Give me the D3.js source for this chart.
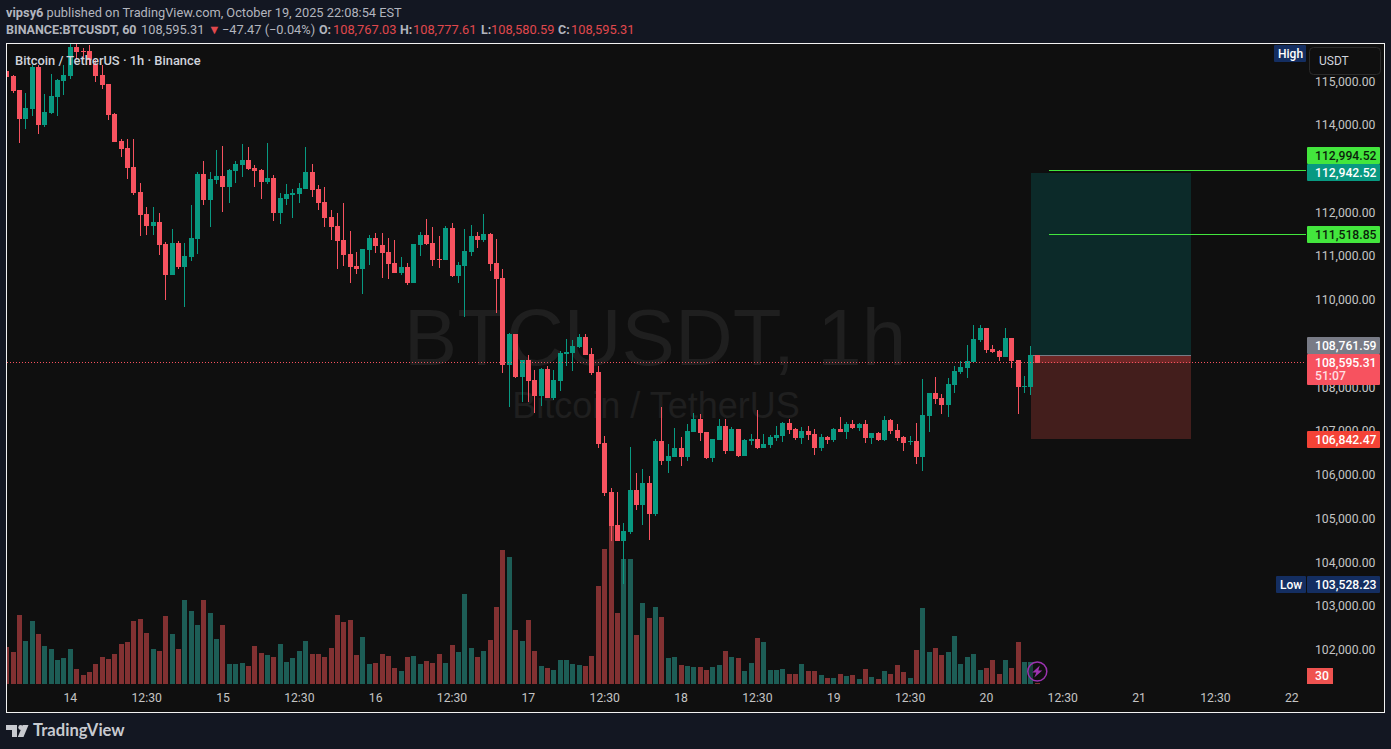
<!DOCTYPE html>
<html>
<head>
<meta charset="utf-8">
<title>BTCUSDT 1h</title>
<script src="https://cdn.jsdelivr.net/npm/d3@7/dist/d3.min.js"></script>
<style>
  html, body { margin: 0; padding: 0; background: #131722; overflow: hidden; }
  text { font-family: Roboto, "Liberation Sans", sans-serif; }
</style>
</head>
<body>
<div id="chart"></div>
<script>
// hourly candles
const opens = [115267,115152,114832,114168,114397,115358,114031,114306,114672,115038,115152,115816,115724,115724,115427,115175,114969,114283,113665,113505,113070,112498,111996,111721,111813,111310,110600,111333,110783,111012,111424,112910,112316,112773,112865,112613,112979,113116,113230,113047,113002,112727,112819,112019,112338,112430,112452,112567,112956,112567,112270,111927,111721,111401,111081,110806,110737,111172,111447,111287,111126,110875,110646,110783,110417,111287,111515,111333,110966,110943,111675,110577,110806,111126,111493,111401,111538,110875,110532,108542,109250,108267,108656,108199,107833,108450,107787,108176,108794,108816,108953,109182,108794,108382,106757,105636,104882,104516,104722,105682,105340,105842,105134,106803,106345,106437,106643,106437,107009,107306,107009,106414,106826,107147,106574,107078,106460,106803,106849,106643,106711,106872,106918,107215,107078,106872,107032,106963,106643,106895,106826,107078,107009,107192,107101,107192,106872,106986,106826,107284,107055,106895,106780,106803,106437,107375,107901,107787,107627,108084,108382,108473,108610,109113,109387,108908,108862,108725,109159,108656,108039,108039,108767.03];
const highs = [115381,115175,114832,114763,115404,115404,114740,115198,115084,115404,115976,115976,115793,115861,115518,115404,114969,114306,113711,113711,113711,112704,112156,112156,112019,111355,111653,111378,111333,112202,112956,113207,112956,113459,113550,113024,113207,113596,113528,113116,113024,113619,112888,112475,112681,112567,112704,113528,113139,112658,112613,112087,112019,112247,111607,111126,111195,111515,111561,111561,111447,111401,111012,110875,111310,111584,111881,111698,111493,111721,111790,110898,111653,111744,111584,111996,111561,111424,110737,109273,109250,108656,108771,108428,108473,108519,108428,108862,109136,109113,109250,109250,108930,108519,106918,105728,105636,104928,106666,106071,106162,106002,106849,107581,106735,107101,106895,107192,107444,107421,107009,106849,107306,107306,107124,107078,106849,106963,107512,106963,106940,107147,107238,107306,107101,107124,107147,107078,106963,106918,107101,107352,107238,107284,107215,107284,106986,107009,107375,107306,107192,106918,106918,107215,108222,107901,108267,107878,108244,108519,108633,108999,109456,109456,109387,108999,108885,109387,109159,108656,108290,108976,108777.61];
const lows = [115084,114763,113619,113940,114237,113825,113985,114283,114237,114717,115084,115541,115564,115404,115015,114855,114146,113642,113299,112796,112429,111493,111515,111515,111058,110028,110600,110737,109868,110920,111081,112202,111698,112681,112042,112247,112704,112842,113002,112613,112338,112681,111836,111767,112202,111904,112247,112567,112384,112087,111698,111401,110737,110806,110417,110623,110165,110829,111103,110532,110509,110646,110600,110371,110417,111035,111287,110806,110760,110943,110554,110417,109639,111035,111218,111355,110692,109731,108359,107581,108244,107695,107695,107444,107604,107787,107741,107947,108519,108405,108930,108771,108313,106643,105545,104516,104516,103528.23,104676,105225,104882,104539,105088,106254,106071,106437,106231,106345,107009,106803,106391,106322,106826,106506,106574,106437,106460,106711,106620,106643,106643,106803,106780,106963,106826,106735,106826,106483,106574,106735,106780,107009,106849,107078,107032,106757,106735,106803,106803,106963,106803,106574,106711,106277,106117,107009,107650,107421,107352,107901,108336,108244,108610,109067,108816,108816,108633,108725,108473,107421,107901,107856,108580.59];
const closes = [115129,114809,114168,114420,115358,114031,114329,114695,115061,115175,115816,115701,115701,115518,115152,114947,114260,113642,113482,113047,112475,111973,111721,111813,111287,110600,111333,110783,111035,111447,112910,112316,112796,112865,112613,113002,113139,113230,113024,112979,112727,112819,112019,112361,112452,112475,112590,112956,112544,112247,111904,111698,111378,111058,110783,110737,111195,111447,111264,111103,110852,110646,110783,110417,111310,111515,111310,110943,110943,111675,110577,110829,111149,111493,111401,111538,110852,110509,108542,109250,108267,108656,108176,107833,108450,107787,108199,108816,108839,108976,109182,108771,108359,106735,105613,104859,104516,104745,105682,105340,105842,105134,106803,106345,106460,106643,106437,107032,107306,106986,106414,106849,107147,106574,107078,106460,106826,106849,106643,106735,106895,106940,107215,107055,106872,107032,106940,106643,106895,106826,107078,107009,107192,107101,107192,106872,106986,106826,107284,107032,106872,106757,106803,106437,107398,107901,107764,107627,108107,108405,108496,108633,109136,109387,108885,108839,108725,109159,108633,108039,108062,108771,108595.31];
const volumes = [370,320,690,430,630,500,380,350,240,260,350,150,90,120,200,270,250,300,400,420,630,650,510,350,330,680,500,350,840,730,590,840,710,450,590,200,200,210,180,380,310,290,270,400,220,260,330,430,300,300,270,360,690,620,640,290,470,200,210,300,280,160,130,270,280,200,230,210,300,210,390,320,900,360,270,330,440,770,1340,1270,540,430,640,330,180,160,140,240,240,200,190,180,280,980,1350,1600,710,1250,1250,490,810,660,770,670,260,270,190,180,170,170,140,170,190,330,270,260,130,210,460,420,140,140,150,100,100,200,130,130,90,60,60,100,80,90,50,150,70,50,130,100,190,120,60,340,760,320,360,290,320,480,200,270,300,140,160,240,100,240,160,420,220,220,10];

// 109,000 and 113,000 are covered by price labels in the picture
const priceTicks = [102000,103000,104000,105000,106000,107000,108000,110000,111000,112000,114000,115000];
const timeTicks = [10,22,34,46,58,70,82,94,106,118,130,142,154,166,178,190,202];
const timeLabels = ["14","12:30","15","12:30","16","12:30","17","12:30","18","12:30","19","12:30","20","12:30","21","12:30","22"];

// long position tool
const entryPrice = 108761.59;
const targetPrice = 112942.52;
const stopPrice = 106842.47;
const lastPrice = 108595.31;
const level1 = 112994.52;
const level2 = 111518.85;
const lowPrice = 103528.23;

const width = 1391;
const height = 749;
const plot = { left: 7, right: 1384, top: 44, bottom: 712, paneRight: 1306, paneBottom: 684 };

const bull = "#089981";
const bear = "#f7525f";
const bullVol = "#1d5d56";
const bearVol = "#823132";
const lime = "#43e63d";

const x = d3.scaleLinear().domain([0, 162]).range([6.7, 1037.3]);
const y = d3.scaleLinear().domain([101245, 115884]).range([684, 44]);
const v = d3.scaleLinear().domain([0, 1600]).range([684, 524]);

// candles sit on whole pixels like the real chart
const px = i => Math.floor(x(i));
const crisp = p => Math.floor(y(p)) + 0.5;

const svg = d3.select("#chart").append("svg")
    .attr("width", width)
    .attr("height", height)
    .style("display", "block");

svg.append("rect").attr("width", width).attr("height", height).attr("fill", "#131722");

svg.append("rect")
    .attr("x", plot.left - 0.5)
    .attr("y", plot.top - 0.5)
    .attr("width", plot.right - plot.left + 1)
    .attr("height", plot.bottom - plot.top + 1)
    .attr("fill", "#0f0f0f")
    .attr("stroke", "#f2f2f2")
    .attr("stroke-width", 1);

svg.append("defs").append("clipPath").attr("id", "pane")
    .append("rect")
    .attr("x", plot.left)
    .attr("y", plot.top)
    .attr("width", plot.paneRight - plot.left)
    .attr("height", plot.paneBottom - plot.top);

// watermark
svg.append("text")
    .attr("x", 655).attr("y", 365)
    .attr("text-anchor", "middle")
    .attr("fill", "#1f1f1f")
    .style("font-family", "'Liberation Sans', sans-serif")
    .style("font-size", "80px")
    .text("BTCUSDT, 1h");
svg.append("text")
    .attr("x", 656).attr("y", 418)
    .attr("text-anchor", "middle")
    .attr("fill", "#1f1f1f")
    .style("font-family", "'Liberation Sans', sans-serif")
    .style("font-size", "36px")
    .text("Bitcoin / TetherUS");

const pane = svg.append("g").attr("clip-path", "url(#pane)").attr("shape-rendering", "crispEdges");
const idx = d3.range(opens.length);

// volume bars first, candles go over them
pane.append("g").selectAll("rect")
    .data(idx)
    .join("rect")
    .attr("x", i => px(i) - 2)
    .attr("y", i => v(volumes[i]))
    .attr("width", 5)
    .attr("height", i => v(0) - v(volumes[i]))
    .attr("fill", i => closes[i] >= opens[i] ? bullVol : bearVol);

// position boxes
const boxLeft = x(161);
const boxRight = x(186.15);
pane.append("rect")
    .attr("x", boxLeft).attr("y", y(targetPrice))
    .attr("width", boxRight - boxLeft).attr("height", y(entryPrice) - y(targetPrice))
    .attr("fill", "#0c2a29");
pane.append("rect")
    .attr("x", boxLeft).attr("y", y(entryPrice))
    .attr("width", boxRight - boxLeft).attr("height", y(stopPrice) - y(entryPrice))
    .attr("fill", "#431e1c");
pane.append("rect")
    .attr("x", boxLeft).attr("y", y(entryPrice))
    .attr("width", boxRight - boxLeft).attr("height", y(lastPrice) - y(entryPrice))
    .attr("fill", "#6e2726");
pane.append("line")
    .attr("x1", boxLeft).attr("x2", boxRight)
    .attr("y1", crisp(entryPrice)).attr("y2", crisp(entryPrice))
    .attr("stroke", "#787b86");

// wicks
pane.append("g").selectAll("rect")
    .data(idx)
    .join("rect")
    .attr("x", i => px(i))
    .attr("y", i => y(highs[i]))
    .attr("width", 1)
    .attr("height", i => y(lows[i]) - y(highs[i]))
    .attr("fill", i => closes[i] >= opens[i] ? bull : bear);

// bodies
pane.append("g").selectAll("rect")
    .data(idx)
    .join("rect")
    .attr("x", i => px(i) - 2)
    .attr("y", i => y(Math.max(opens[i], closes[i])))
    .attr("width", 5)
    .attr("height", i => Math.max(1, Math.abs(y(opens[i]) - y(closes[i]))))
    .attr("fill", i => closes[i] >= opens[i] ? bull : bear);

// target lines
[level1, level2].forEach(p => {
    pane.append("line")
        .attr("x1", x(163.85)).attr("x2", plot.paneRight)
        .attr("y1", crisp(p)).attr("y2", crisp(p))
        .attr("stroke", lime);
});

// last price line
svg.append("line")
    .attr("x1", plot.left).attr("x2", plot.paneRight)
    .attr("y1", crisp(lastPrice)).attr("y2", crisp(lastPrice))
    .attr("stroke", bear)
    .attr("stroke-dasharray", "1 2");

// axes
const yAxis = d3.axisRight(y)
    .tickValues(priceTicks)
    .tickSize(0)
    .tickPadding(0)
    .tickFormat(d3.format(",.2f"));
const yG = svg.append("g")
    .attr("transform", "translate(1315,0)")
    .call(yAxis);
yG.select(".domain").remove();
yG.selectAll("text").attr("fill", "#c4c4c4").attr("dy", "0.2em").style("font-size", "12.2px");

const xAxis = d3.axisBottom(x)
    .tickValues(timeTicks)
    .tickSize(0)
    .tickPadding(0)
    .tickFormat((d, i) => timeLabels[i]);
const xG = svg.append("g")
    .attr("transform", "translate(-0.5,693)")
    .call(xAxis);
xG.select(".domain").remove();
xG.selectAll("text").attr("fill", "#c4c4c4").style("font-size", "12.2px");

// price labels on the scale
function priceLabel(value, fill, color, shift) {
    const top = Math.round(y(value) - 8.5) + shift;
    svg.append("rect")
        .attr("x", 1307).attr("y", top)
        .attr("width", 73).attr("height", 17)
        .attr("rx", 1)
        .attr("fill", fill);
    svg.append("text")
        .attr("x", 1315).attr("y", top + 13)
        .attr("fill", color)
        .style("font-size", "12.2px")
        .style("font-weight", 500)
        .text(d3.format(",.2f")(value));
}

priceLabel(level1, lime, "#0b1f0b", -15);
priceLabel(targetPrice, "#089981", "#ffffff", 0);
priceLabel(level2, lime, "#0b1f0b", 0);
priceLabel(entryPrice, "#787b86", "#ffffff", -10);
priceLabel(stopPrice, "#f44336", "#ffffff", 0);
priceLabel(lowPrice, "#142e61", "#ffffff", 0);

// last price label is taller, holds the countdown
const lastTop = Math.round(y(lastPrice) - 8.5);
svg.append("rect").attr("x", 1307).attr("y", lastTop).attr("width", 73).attr("height", 31).attr("rx", 1).attr("fill", bear);
svg.append("text").attr("x", 1315).attr("y", lastTop + 13).attr("fill", "#ffffff").style("font-size", "12.2px").style("font-weight", 500)
    .text(d3.format(",.2f")(lastPrice));
svg.append("text").attr("x", 1315).attr("y", lastTop + 26).attr("fill", "#ffdfe2").style("font-size", "12.2px").style("font-weight", 500).text("51:07");

// high / low tags
svg.append("rect").attr("x", 1274).attr("y", 45).attr("width", 32).attr("height", 17).attr("rx", 1).attr("fill", "#142e61");
svg.append("text").attr("x", 1278).attr("y", 58).attr("fill", "#ffffff").style("font-size", "12px").style("font-weight", 500).text("High");
svg.append("rect").attr("x", 1276).attr("y", 576).attr("width", 30).attr("height", 17).attr("rx", 1).attr("fill", "#142e61");
svg.append("text").attr("x", 1280).attr("y", 589).attr("fill", "#ffffff").style("font-size", "12px").style("font-weight", 500).text("Low");

// currency button
svg.append("rect")
    .attr("x", 1309.5).attr("y", 47.5)
    .attr("width", 71).attr("height", 27)
    .attr("rx", 4)
    .attr("fill", "#0f0f0f")
    .attr("stroke", "#2a2a2a");
svg.append("text").attr("x", 1319).attr("y", 65).attr("fill", "#d1d4dc").style("font-size", "12px").text("USDT");

// volume label
svg.append("rect").attr("x", 1307).attr("y", 668).attr("width", 26).attr("height", 16).attr("fill", "#ef5350");
svg.append("text").attr("x", 1315).attr("y", 680).attr("fill", "#ffffff").style("font-size", "12.2px").style("font-weight", 500).text("30");

// lightning badge
const bolt = svg.append("g").attr("transform", "translate(" + x(162) + ",671.5)");
bolt.append("circle").attr("r", 9.5).attr("fill", "#0f0f0f").attr("fill-opacity", 0.4).attr("stroke", "#9c33b0").attr("stroke-width", 1.5);
bolt.append("path").attr("d", "M2.5 -6 L-5 1 H-1 L-3 6 L5 -1 H1 Z").attr("fill", "#9c33b0");

// title
svg.append("text")
    .attr("x", 15).attr("y", 65)
    .attr("fill", "#d1d4dc")
    .style("font-size", "12.9px")
    .style("font-weight", 500)
    .text("Bitcoin / TetherUS · 1h · Binance");

// header
const headColor = "#b2b5be";
const line1 = svg.append("text").attr("x", 6).attr("y", 17).attr("fill", headColor).style("font-size", "12.8px");
line1.append("tspan").style("font-weight", 700).text("vipsy6");
line1.append("tspan").text(" published on TradingView.com, October 19, 2025 22:08:54 EST");

function head(xPos, str, bold, color) {
    svg.append("text")
        .attr("x", xPos).attr("y", 34)
        .attr("fill", color || headColor)
        .style("font-size", bold ? "12.5px" : "12.8px")
        .style("font-weight", bold ? 700 : 400)
        .text(str);
}
head(6, "BINANCE:BTCUSDT, 60", true);
head(141, "108,595.31");
head(208, "▼", false, "#e0484d");
head(222, "−47.47 (−0.04%)");
head(319, "O:", true);
head(333, "108,767.03", false, "#e0484d");
head(400, "H:", true);
head(413, "108,777.61", false, "#e0484d");
head(481, "L:", true);
head(491, "108,580.59", false, "#e0484d");
head(558, "C:", true);
head(571, "108,595.31", false, "#e0484d");

// footer logo
const logo = svg.append("g").attr("fill", "#c8cad0");
logo.append("path").attr("d", "M6 725 H17 V737 H12 V730 H6 Z");
logo.append("circle").attr("cx", 20.7).attr("cy", 727.5).attr("r", 2.4);
logo.append("path").attr("d", "M28.5 725 L23.5 737 H17.8 L22.8 725 Z");
svg.append("text")
    .attr("x", 33).attr("y", 736)
    .attr("fill", "#c8cad0")
    .style("font-family", "Lato, Roboto, sans-serif")
    .style("font-size", "16.6px")
    .style("font-weight", 700)
    .text("TradingView");
</script>
</body>
</html>
